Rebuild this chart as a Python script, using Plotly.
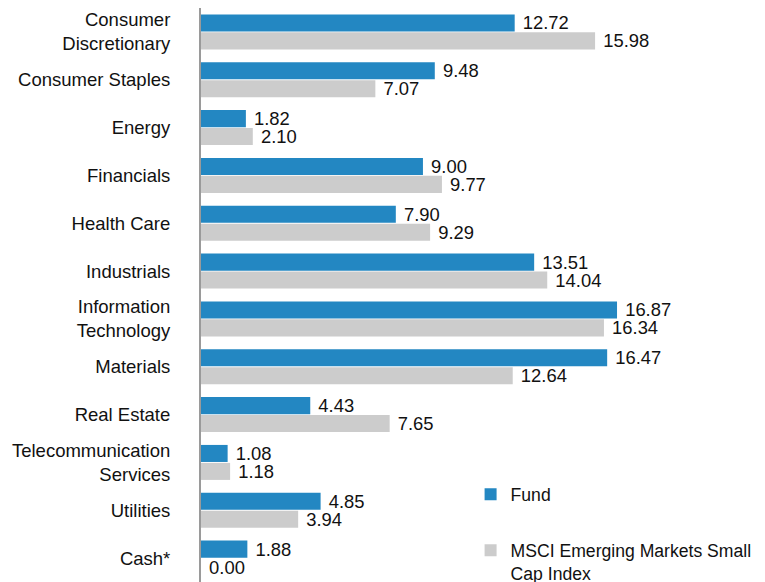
import plotly.graph_objects as go

categories = ["Consumer<br>Discretionary", "Consumer Staples", "Energy", "Financials",
              "Health Care", "Industrials", "Information<br>Technology", "Materials",
              "Real Estate", "Telecommunication<br>Services", "Utilities", "Cash*"]
fund = [12.72, 9.48, 1.82, 9.00, 7.90, 13.51, 16.87, 16.47, 4.43, 1.08, 4.85, 1.88]
index_vals = [15.98, 7.07, 2.10, 9.77, 9.29, 14.04, 16.34, 12.64, 7.65, 1.18, 3.94, 0.00]
series_names = ["Fund", "MSCI Emerging Markets Small<br>Cap Index"]

FONT = "Liberation Sans, Arial, Helvetica, sans-serif"
FS_LABEL = 18.5
FS_VAL = 18.4
FS_LEG = 17.6

fig = go.Figure()
fig.add_trace(go.Bar(
    y=categories, x=fund, orientation="h", name=series_names[0],
    marker=dict(color="#2387c2", line=dict(width=0)),
    text=[f" {v:.2f}" for v in fund], textposition="outside",
    textfont=dict(family=FONT, size=FS_VAL, color="#111111"),
    cliponaxis=False, constraintext="none", legendgroup="a",
))
fig.add_trace(go.Bar(
    y=categories, x=index_vals, orientation="h", name=series_names[1],
    marker=dict(color="#cccccc", line=dict(width=0)),
    text=[f" {v:.2f}" for v in index_vals], textposition="outside",
    textfont=dict(family=FONT, size=FS_VAL, color="#111111"),
    cliponaxis=False, constraintext="none", legendgroup="b",
))

fig.update_layout(
    width=757, height=574,
    margin=dict(l=193, r=0, t=0, b=0, autoexpand=False),
    paper_bgcolor="white", plot_bgcolor="white",
    font=dict(family=FONT, size=FS_LABEL, color="#111111"),
    barmode="group", bargap=0.25, bargroupgap=0.05,
    showlegend=True,
    legend=dict(x=0.478, y=0.184, xanchor="left", yanchor="top",
                font=dict(family=FONT, size=FS_LEG, color="#111111"),
                tracegroupgap=30, traceorder="grouped", valign="top",
                bgcolor="rgba(0,0,0,0)", itemwidth=30),
    xaxis=dict(range=[0, 22.87], showgrid=False, zeroline=False,
               showticklabels=False, showline=False, fixedrange=True,
               automargin=False),
    yaxis=dict(autorange="reversed", showgrid=False, zeroline=False,
               showline=True, linecolor="#9a9a9a", linewidth=2,
               ticks="", ticklabelstandoff=25, fixedrange=True,
               automargin=False),
)

fig.write_html("out.html")
